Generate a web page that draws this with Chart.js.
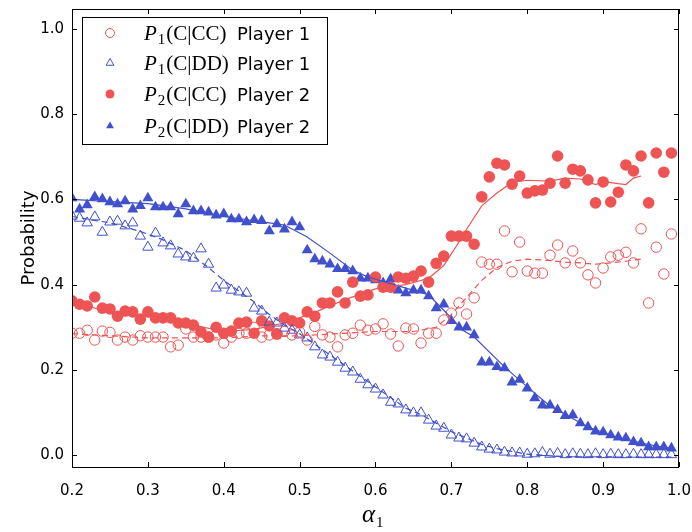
<!DOCTYPE html>
<html>
<head>
<meta charset="utf-8">
<script src="https://cdn.jsdelivr.net/npm/chart.js@4.4.1/dist/chart.umd.min.js"></script>
<style>
  html, body { margin: 0; padding: 0; background: #fff; }
  #wrap { width: 692px; height: 532px; }
</style>
</head>
<body>
<div id="wrap"><canvas id="chart" width="692" height="532"></canvas></div>
<script>
// alpha_1 sample points
const alphaX = [0.20,0.21,0.22,0.23,0.24,0.25,0.26,0.27,0.28,0.29,0.30,0.31,0.32,0.33,0.34,0.35,0.36,0.37,0.38,0.39,
  0.40,0.41,0.42,0.43,0.44,0.45,0.46,0.47,0.48,0.49,0.50,0.51,0.52,0.53,0.54,0.55,0.56,0.57,0.58,0.59,
  0.60,0.61,0.62,0.63,0.64,0.65,0.66,0.67,0.68,0.69,0.70,0.71,0.72,0.73,0.74,0.75,0.76,0.77,0.78,0.79,
  0.80,0.81,0.82,0.83,0.84,0.85,0.86,0.87,0.88,0.89,0.90,0.91,0.92,0.93,0.94,0.95,0.96,0.97,0.98,0.99];

// P1(C|CC) player 1 (open circles)
const p1CC = [0.286,0.286,0.293,0.270,0.291,0.288,0.270,0.277,0.270,0.280,0.277,0.277,0.277,0.254,0.258,0.296,0.277,0.277,0.277,0.282,
  0.263,0.277,0.286,0.286,0.300,0.277,0.282,0.285,0.290,0.282,0.289,0.270,0.302,0.282,0.277,0.254,0.282,0.286,0.305,0.293,
  0.296,0.308,0.284,0.256,0.298,0.296,0.263,0.286,0.286,0.317,0.333,0.357,0.331,0.369,0.453,0.448,0.448,0.526,0.430,0.500,
  0.432,0.427,0.427,0.469,0.493,0.451,0.479,0.451,0.423,0.404,0.439,0.465,0.469,0.476,0.451,0.531,0.357,0.488,0.425,0.519];

// P1(C|DD) player 1 (open triangles)
const p1DD = [0.561,0.556,0.545,0.559,0.523,0.547,0.549,0.538,0.545,0.514,0.488,0.521,0.498,0.491,0.472,0.465,0.462,0.484,0.448,0.392,
  0.399,0.387,0.383,0.380,0.345,0.338,0.312,0.310,0.298,0.293,0.282,0.275,0.254,0.235,0.230,0.218,0.204,0.195,0.178,0.165,
  0.155,0.141,0.124,0.120,0.106,0.099,0.099,0.082,0.068,0.063,0.047,0.040,0.038,0.028,0.019,0.014,0.012,0.007,0.005,0.005,
  0.002,0.003,0.006,0.002,0.004,0.001,0.003,0.002,0.001,0.003,0.001,0.002,0.001,0.001,0.002,0.001,0.001,0.001,0.001,0.001];

// P2(C|CC) player 2 (filled circles)
const p2CC = [0.362,0.354,0.350,0.371,0.345,0.343,0.326,0.338,0.336,0.319,0.336,0.322,0.322,0.322,0.310,0.310,0.305,0.289,0.277,0.300,
  0.286,0.291,0.310,0.312,0.286,0.315,0.303,0.284,0.322,0.315,0.310,0.336,0.326,0.357,0.357,0.383,0.357,0.406,0.373,0.376,
  0.418,0.394,0.394,0.418,0.415,0.420,0.432,0.406,0.450,0.467,0.514,0.514,0.514,0.495,0.606,0.653,0.685,0.681,0.636,0.655,
  0.615,0.620,0.622,0.638,0.702,0.638,0.671,0.667,0.646,0.592,0.641,0.594,0.617,0.681,0.667,0.702,0.592,0.709,0.664,0.709];

// P2(C|DD) player 2 (filled triangles)
const p2DD = [0.603,0.577,0.587,0.606,0.601,0.594,0.589,0.596,0.577,0.585,0.603,0.582,0.582,0.582,0.566,0.589,0.573,0.573,0.570,0.563,
  0.566,0.554,0.554,0.547,0.552,0.550,0.526,0.542,0.530,0.547,0.535,0.481,0.460,0.455,0.448,0.437,0.437,0.432,0.415,0.415,
  0.411,0.404,0.413,0.387,0.380,0.387,0.387,0.373,0.345,0.354,0.315,0.300,0.300,0.282,0.218,0.218,0.207,0.204,0.171,0.177,
  0.157,0.134,0.117,0.117,0.106,0.092,0.094,0.075,0.066,0.056,0.054,0.047,0.042,0.040,0.031,0.028,0.019,0.019,0.019,0.016];

// smoothed curves
const fitCC1X = [0.20,0.25,0.30,0.35,0.40,0.45,0.50,0.55,0.60,0.65,0.68,0.70,0.72,0.74,0.76,0.78,0.80,0.82,0.85,0.87,0.89,0.91,0.93,0.95];
const fitCC1Y = [0.285,0.280,0.275,0.275,0.275,0.280,0.280,0.285,0.290,0.290,0.300,0.330,0.370,0.410,0.440,0.455,0.460,0.458,0.453,0.451,0.448,0.451,0.455,0.460];
const fitDD1X = [0.20,0.25,0.29,0.32,0.35,0.38,0.40,0.42,0.44,0.46,0.48,0.50,0.52,0.54,0.56,0.58,0.60,0.62,0.64,0.66,0.68,0.70,0.72,0.74,0.76,0.80,0.85,0.99];
const fitDD1Y = [0.560,0.545,0.525,0.505,0.480,0.440,0.410,0.385,0.360,0.330,0.305,0.285,0.260,0.235,0.210,0.185,0.160,0.135,0.110,0.095,0.075,0.055,0.040,0.025,0.015,0.002,-0.004,-0.005];
const fitCC2X = [0.20,0.24,0.28,0.32,0.36,0.40,0.44,0.48,0.52,0.56,0.60,0.64,0.67,0.69,0.71,0.72,0.74,0.76,0.78,0.80,0.83,0.85,0.87,0.89,0.90,0.92,0.93,0.94,0.95];
const fitCC2Y = [0.360,0.340,0.330,0.320,0.305,0.290,0.295,0.310,0.335,0.365,0.390,0.400,0.415,0.445,0.500,0.530,0.585,0.615,0.640,0.645,0.643,0.650,0.648,0.635,0.642,0.637,0.635,0.650,0.655];
const fitDD2X = [0.20,0.25,0.30,0.35,0.40,0.46,0.48,0.51,0.54,0.57,0.59,0.64,0.67,0.69,0.715,0.73,0.77,0.80,0.83,0.88,0.92,0.97,0.99];
const fitDD2Y = [0.600,0.595,0.590,0.578,0.560,0.545,0.540,0.512,0.474,0.434,0.418,0.392,0.376,0.340,0.293,0.277,0.207,0.160,0.115,0.066,0.040,0.021,0.016];

const xTicks = [0.2,0.3,0.4,0.5,0.6,0.7,0.8,0.9,1.0];
const yTicks = [0.0,0.2,0.4,0.6,0.8,1.0];

const RED = '#ee5454';
const BLUE = '#4150cc';

const pts = (xs, ys) => xs.map((x, i) => ({x: x, y: ys[i]}));

const legendItems = [
  {sub: '1', cond: 'CC', who: 'Player 1', style: 'circle', color: RED, open: true},
  {sub: '1', cond: 'DD', who: 'Player 1', style: 'triangle', color: BLUE, open: true},
  {sub: '2', cond: 'CC', who: 'Player 2', style: 'circle', color: RED, open: false},
  {sub: '2', cond: 'DD', who: 'Player 2', style: 'triangle', color: BLUE, open: false}
];

// frame with inward ticks on all four sides, legend, x label
const decorations = {
  id: 'decorations',
  afterDraw(chart) {
    const {ctx, chartArea: a, scales: {x, y}} = chart;
    ctx.save();
    ctx.strokeStyle = '#000';
    ctx.lineWidth = 1;
    ctx.strokeRect(a.left + 0.5, a.top + 0.5, a.right - a.left - 1, a.bottom - a.top);
    const tl = 5;
    ctx.beginPath();
    xTicks.forEach(v => {
      const px = Math.round(x.getPixelForValue(v)) + 0.5;
      ctx.moveTo(px, a.bottom); ctx.lineTo(px, a.bottom - tl);
      ctx.moveTo(px, a.top); ctx.lineTo(px, a.top + tl);
    });
    yTicks.forEach(v => {
      const py = Math.round(y.getPixelForValue(v)) + 0.5;
      ctx.moveTo(a.left, py); ctx.lineTo(a.left + tl, py);
      ctx.moveTo(a.right, py); ctx.lineTo(a.right - tl, py);
    });
    ctx.stroke();

    // legend
    ctx.fillStyle = '#fff';
    ctx.fillRect(82, 17, 245, 127);
    ctx.strokeRect(82.5, 17.5, 245, 127);
    const rows = [33, 63, 94, 126];
    legendItems.forEach((it, i) => {
      const cy = rows[i];
      ctx.save();
      ctx.strokeStyle = it.color;
      ctx.fillStyle = it.open ? 'rgba(0,0,0,0)' : it.color;
      Chart.helpers.drawPoint(ctx, {pointStyle: it.style, radius: 4.5, borderWidth: it.open ? 1 : 0, rotation: 0}, 110, cy);
      ctx.restore();
      ctx.fillStyle = '#000';
      ctx.textBaseline = 'alphabetic';
      ctx.textAlign = 'left';
      let tx = 144;
      const base = cy + 7;
      ctx.font = 'italic 21px "Liberation Serif"';
      ctx.fillText('P', tx, base);
      tx += ctx.measureText('P').width + 1;
      ctx.font = '15px "Liberation Serif"';
      ctx.fillText(it.sub, tx, base + 4);
      tx += ctx.measureText(it.sub).width + 1;
      ctx.font = '21px "Liberation Serif"';
      ctx.fillText('(C|' + it.cond + ')', tx, base);
      ctx.font = '18px "DejaVu Sans"';
      ctx.fillText(it.who, 237, base);
    });

    // x axis label alpha_1
    ctx.fillStyle = '#000';
    ctx.font = 'italic 25px "Liberation Serif"';
    const aw = ctx.measureText('\u03b1').width;
    const ax = 362;
    ctx.fillText('\u03b1', ax, 522);
    ctx.font = '15px "Liberation Serif"';
    ctx.fillText('1', ax + aw + 1, 527);
    ctx.restore();
  }
};

new Chart(document.getElementById('chart'), {
  type: 'scatter',
  data: {
    datasets: [
      { label: 'P1(C|CC) fit', data: pts(fitCC1X, fitCC1Y), showLine: true, borderColor: RED, borderWidth: 1.2, borderDash: [6, 4], pointRadius: 0, fill: false },
      { label: 'P1(C|DD) fit', data: pts(fitDD1X, fitDD1Y), showLine: true, borderColor: BLUE, borderWidth: 1.2, borderDash: [6, 4], pointRadius: 0, fill: false },
      { label: 'P2(C|CC) fit', data: pts(fitCC2X, fitCC2Y), showLine: true, borderColor: RED, borderWidth: 1.2, pointRadius: 0, fill: false },
      { label: 'P2(C|DD) fit', data: pts(fitDD2X, fitDD2Y), showLine: true, borderColor: BLUE, borderWidth: 1.2, pointRadius: 0, fill: false },
      { label: 'P1(C|CC) Player 1', data: pts(alphaX, p1CC), pointStyle: 'circle', pointRadius: 5.2, borderWidth: 1, borderColor: RED, backgroundColor: 'rgba(0,0,0,0)' },
      { label: 'P1(C|DD) Player 1', data: pts(alphaX, p1DD), pointStyle: 'triangle', pointRadius: 6, borderWidth: 1, borderColor: BLUE, backgroundColor: 'rgba(0,0,0,0)' },
      { label: 'P2(C|CC) Player 2', data: pts(alphaX, p2CC), pointStyle: 'circle', pointRadius: 5.8, borderWidth: 0, backgroundColor: RED },
      { label: 'P2(C|DD) Player 2', data: pts(alphaX, p2DD), pointStyle: 'triangle', pointRadius: 6.4, borderWidth: 0, backgroundColor: BLUE }
    ]
  },
  options: {
    responsive: false,
    animation: false,
    events: [],
    layout: { padding: { top: 9, right: 13, left: 0, bottom: 0 } },
    plugins: { legend: { display: false }, tooltip: { enabled: false } },
    scales: {
      x: {
        type: 'linear', min: 0.2, max: 1.0,
        afterBuildTicks: s => { s.ticks = xTicks.map(v => ({value: v})); },
        afterFit: s => { s.height = 65; s.paddingLeft = 0; s.paddingRight = 0; },
        grid: { display: false, drawTicks: false },
        border: { display: false },
        ticks: { padding: 15, color: '#000', font: { family: 'DejaVu Sans', size: 15 }, callback: v => v.toFixed(1), maxRotation: 0 }
      },
      y: {
        type: 'linear', min: -0.028, max: 1.047,
        afterBuildTicks: s => { s.ticks = yTicks.map(v => ({value: v})); },
        afterFit: s => { s.width = 72; s.paddingTop = 0; s.paddingBottom = 0; },
        grid: { display: false, drawTicks: false },
        border: { display: false },
        ticks: { padding: 8, color: '#000', font: { family: 'DejaVu Sans', size: 15 }, callback: v => v.toFixed(1) },
        title: { display: true, text: 'Probability', color: '#000', font: { family: 'DejaVu Sans', size: 18 }, padding: { top: 19, bottom: 0 } }
      }
    }
  },
  plugins: [decorations]
});
</script>
</body>
</html>
